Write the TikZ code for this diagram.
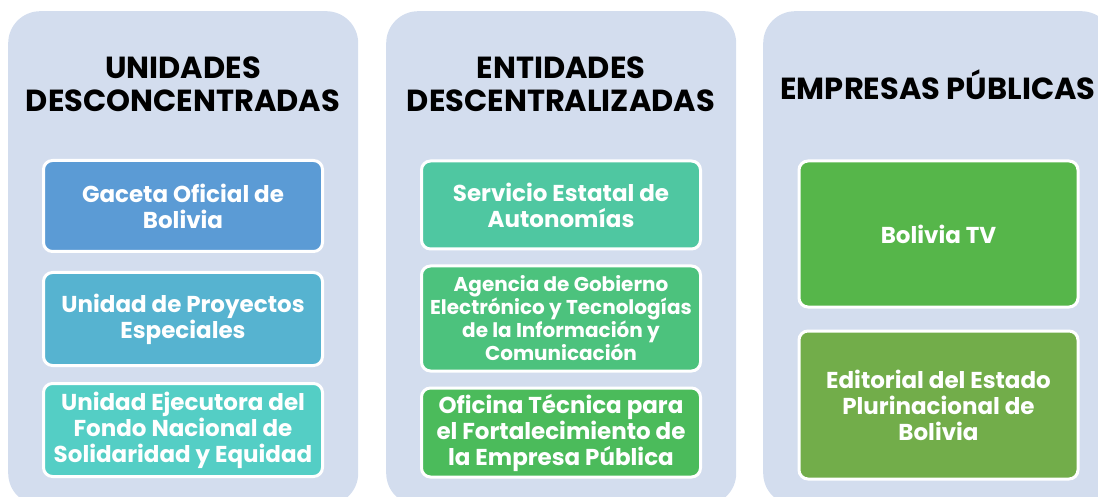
\documentclass[tikz,border=0pt]{standalone}
\usepackage{fontspec}
\setmainfont{Poppins}
\usetikzlibrary{positioning}
\definecolor{panelbg}{HTML}{D3DDEE}
\definecolor{gaceta}{HTML}{5B9BD5}
\definecolor{proyectos}{HTML}{56B3D0}
\definecolor{fondo}{HTML}{54CEC5}
\definecolor{autonomias}{HTML}{4FC7A1}
\definecolor{agetic}{HTML}{4CC27D}
\definecolor{oficina}{HTML}{4BBB5B}
\definecolor{boliviatv}{HTML}{56B64A}
\definecolor{editorial}{HTML}{72AD4A}

\begin{document}
\begin{tikzpicture}[x=1pt,y=-1pt]
\tikzstyle{panel}=[rounded corners=32pt, fill=panelbg,
inner sep=0pt, anchor=north west, minimum width=350pt, minimum height=494pt]
\tikzstyle{heading}=[font=\bfseries\fontsize{30.5}{33}\selectfont, align=center]
\tikzstyle{unit}=[rounded corners=9pt, draw=white, line width=3pt,
text=white, font=\bfseries\fontsize{23}{26}\selectfont, align=center,
inner sep=2pt, minimum width=279pt]
\useasboundingbox (0,0) rectangle (1098,497);

% panels
\node[panel] at (8,11) (desc) {};
\node[panel] at (386,11) (dece) {};
\node[panel] at (763,11) (emp) {};

% headings
\node[heading] at (183,84) (hdesc) {UNIDADES\\DESCONCENTRADAS};
\node[heading] at (561,84) (hdece) {ENTIDADES\\DESCENTRALIZADAS};
\node[heading] at (938,85) (hemp) {EMPRESAS PÚBLICAS};

% unidades desconcentradas
\node[unit,fill=gaceta,minimum height=91pt] at (183,206) (gac) {Gaceta Oficial de\\Bolivia};
\node[unit,fill=proyectos,minimum height=93pt,below of=gac,node distance=113pt] (upe) {Unidad de Proyectos\\Especiales};
\node[unit,fill=fondo,minimum height=93pt,below of=upe,node distance=111pt] (ufn) {Unidad Ejecutora del\\Fondo Nacional de\\Solidaridad y Equidad};

% entidades descentralizadas
\node[unit,fill=autonomias,minimum height=88pt] at (561,205) (sea) {Servicio Estatal de\\Autonomías};
\node[unit,fill=agetic,minimum height=105pt,below of=sea,node distance=113.5pt,
font=\bfseries\fontsize{20}{23}\selectfont] (age) {Agencia de Gobierno\\Electrónico y Tecnologías\\de la Información y\\Comunicación};
\node[unit,fill=oficina,minimum height=89pt,below of=age,node distance=114pt] (ofe) {Oficina Técnica para\\el Fortalecimiento de\\la Empresa Pública};

% empresas publicas
\node[unit,fill=boliviatv,minimum height=146pt] at (938.5,234) (btv) {Bolivia TV};
\node[unit,fill=editorial,minimum height=148pt,below of=btv,node distance=171pt] (epb) {Editorial del Estado\\Plurinacional de\\Bolivia};

\end{tikzpicture}
\end{document}
